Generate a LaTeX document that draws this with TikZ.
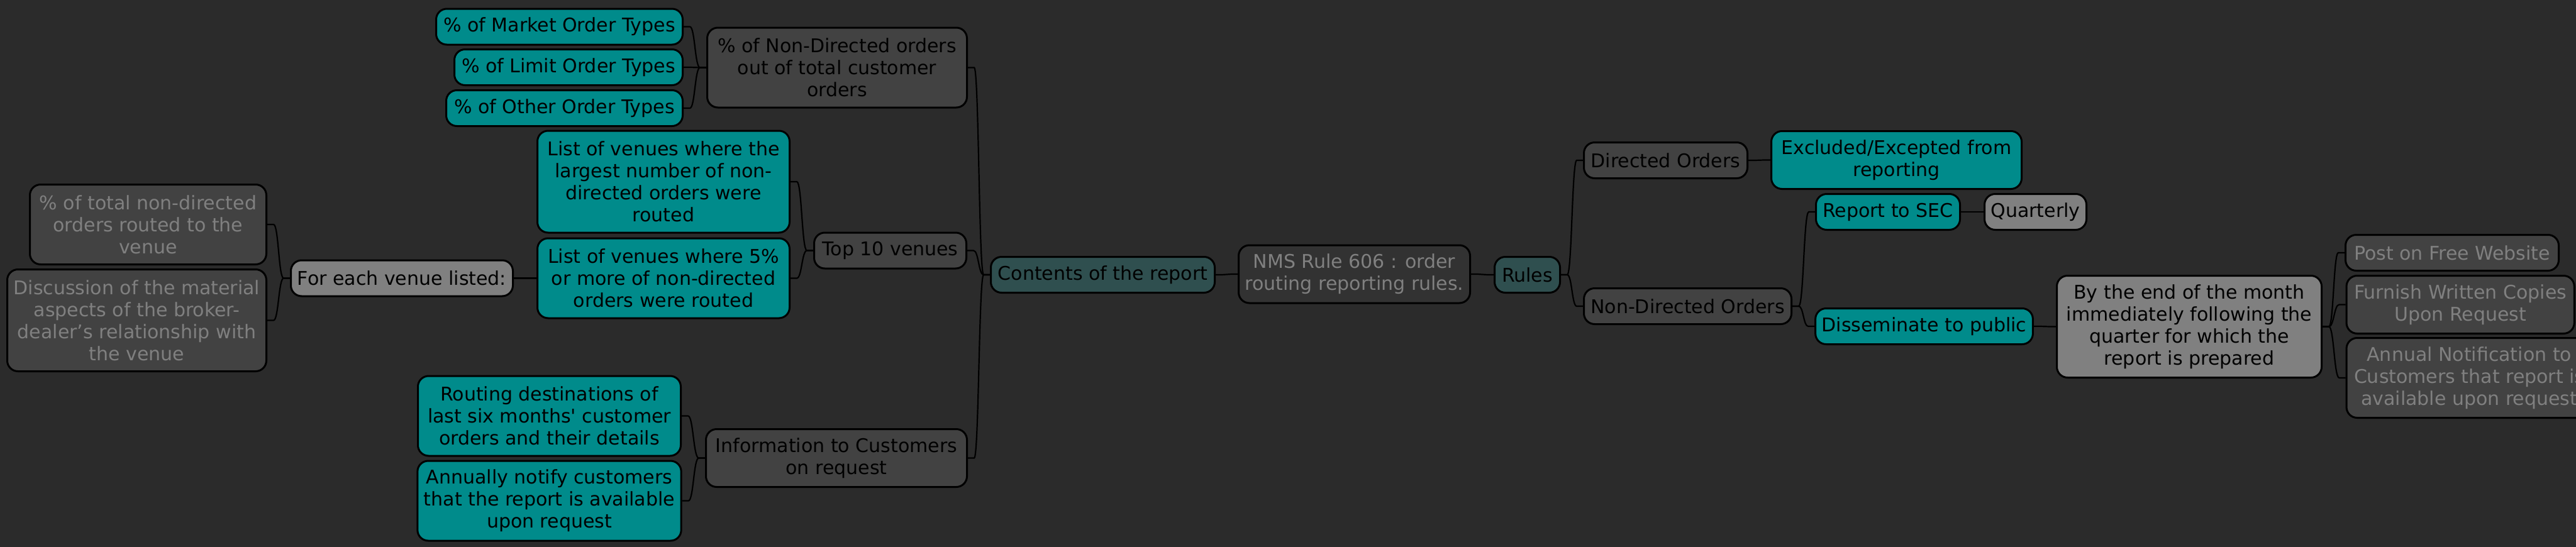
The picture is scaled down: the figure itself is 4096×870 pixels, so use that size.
\documentclass[tikz,border=0pt]{standalone}
\usepackage{fontspec}
\setmainfont{DejaVu Sans}
\usetikzlibrary{calc}
\definecolor{bgc}{HTML}{2B2B2B}
\definecolor{dk}{HTML}{424242}
\definecolor{rootc}{HTML}{323232}
\definecolor{tealc}{HTML}{008B8B}
\definecolor{slate}{HTML}{2F4F4F}
\definecolor{grayc}{HTML}{808080}
\definecolor{gtext}{HTML}{808080}
\tikzset{
  box/.style={draw=black, line width=3pt, rounded corners=17pt, inner xsep=10pt, inner ysep=0pt,
    align=center, font=\fontsize{30}{35}\selectfont, text=black},
  dkbox/.style={box, fill=dk},
  dkgbox/.style={box, fill=dk, text=gtext},
  tealbox/.style={box, fill=tealc},
  slatebox/.style={box, fill=slate},
  graybox/.style={box, fill=grayc},
  rootbox/.style={box, fill=rootc, text=gtext},
  conn/.style={draw=black, line width=2.2pt},
  h1/.style={minimum height=57pt},
  h2/.style={minimum height=92pt},
  h3/.style={minimum height=127pt},
  h4/.style={minimum height=162pt},
}
\newcommand\linkR[2]{\draw[conn] let \p1=(#1.east), \p2=(#2.west) in
  (\p1) -- (\x1+10pt,\y1) .. controls ({(\x1+\x2)/2},\y1) and ({(\x1+\x2)/2},\y2) .. (\x2-10pt,\y2) -- (\p2);}
\newcommand\linkL[2]{\draw[conn] let \p1=(#1.west), \p2=(#2.east) in
  (\p1) -- (\x1-10pt,\y1) .. controls ({(\x1+\x2)/2},\y1) and ({(\x1+\x2)/2},\y2) .. (\x2+10pt,\y2) -- (\p2);}
\begin{document}
\begin{tikzpicture}[x=1pt,y=-1pt]
\useasboundingbox (0,0) rectangle (4096,870);
\clip (0,0) rectangle (4096,870);
\fill[bgc] (0,0) rectangle (4096,870);

% root
\node[rootbox,h2,minimum width=368pt] (root) at (2153.5,436) {NMS Rule 606 : order\\routing reporting rules.};

% left side
\node[slatebox,h1,minimum width=356pt] (cont) at (1753.5,437) {Contents of the report};
\node[dkbox,h3,minimum width=413pt] (nd) at (1331,107.5) {\% of Non-Directed orders\\out of total customer\\orders};
\node[tealbox,h1,minimum width=392pt] (mkt) at (889.5,42.5) {\% of Market Order Types};
\node[tealbox,h1,minimum width=363pt] (lim) at (904,107) {\% of Limit Order Types};
\node[tealbox,h1,minimum width=376pt] (oth) at (897.5,172) {\% of Other Order Types};
\node[dkbox,h1,minimum width=242pt] (top) at (1415.5,398.5) {Top 10 venues};
\node[tealbox,h4,minimum width=401pt] (lva) at (1055,289) {List of venues where the\\largest number of non-\\directed orders were\\routed};
\node[tealbox,h3,minimum width=401pt] (lvb) at (1055,442.5) {List of venues where 5\%\\or more of non-directed\\orders were routed};
\node[graybox,h1,minimum width=353pt] (feach) at (639,442.5) {For each venue listed:};
\node[dkgbox,h3,minimum width=376pt] (pct) at (235.5,357) {\% of total non-directed\\orders routed to the\\venue};
\node[dkgbox,h4,minimum width=412pt] (disc) at (217.5,509.5) {Discussion of the material\\aspects of the broker-\\dealer’s relationship with\\the venue};
\node[dkbox,h2,minimum width=415pt] (info) at (1330,728.5) {Information to Customers\\on request};
\node[tealbox,h3,minimum width=418pt] (rout) at (873.5,661.5) {Routing destinations of\\last six months\textquotesingle{} customer\\orders and their details};
\node[tealbox,h3,minimum width=418pt] (ann) at (873.5,796.5) {Annually notify customers\\that the report is available\\upon request};

% right side
\node[slatebox,h1,minimum width=104pt] (rules) at (2428.5,437) {Rules};
\node[dkbox,h1,minimum width=260pt] (dir) at (2648.5,255) {Directed Orders};
\node[dkbox,h1,minimum width=330pt] (ndir) at (2683.5,487) {Non-Directed Orders};
\node[tealbox,h2,minimum width=398pt] (excl) at (3015.5,254.5) {Excluded/Excepted from\\reporting};
\node[tealbox,h1,minimum width=229pt] (sec) at (3002,337) {Report to SEC};
\node[graybox,h1,minimum width=160pt] (quart) at (3236.5,337) {Quarterly};
\node[tealbox,h1,minimum width=344pt] (diss) at (3059.5,519) {Disseminate to public};
\node[graybox,h4,minimum width=421pt] (bte) at (3481,519.5) {By the end of the month\\immediately following the\\quarter for which the\\report is prepared};
\node[dkgbox,h1,minimum width=339pt] (post) at (3899,402) {Post on Free Website};
\node[dkgbox,h2,anchor=west,inner xsep=12pt] (furn) at (3729.5,484.5) {Furnish Written Copies\\Upon Request};
\node[dkgbox,h3,anchor=west,inner xsep=12pt] (annual) at (3729.5,601) {Annual Notification to\\Customers that report is\\available upon request};

% connectors
\linkL{root}{cont}
\linkL{cont}{nd}
\linkL{cont}{top}
\linkL{cont}{info}
\linkL{nd}{mkt}
\linkL{nd}{lim}
\linkL{nd}{oth}
\linkL{top}{lva}
\linkL{top}{lvb}
\linkL{lvb}{feach}
\linkL{feach}{pct}
\linkL{feach}{disc}
\linkL{info}{rout}
\linkL{info}{ann}
\linkR{root}{rules}
\linkR{rules}{dir}
\linkR{rules}{ndir}
\linkR{dir}{excl}
\linkR{ndir}{sec}
\linkR{ndir}{diss}
\linkR{sec}{quart}
\linkR{diss}{bte}
\linkR{bte}{post}
\linkR{bte}{furn}
\linkR{bte}{annual}
\end{tikzpicture}
\end{document}
